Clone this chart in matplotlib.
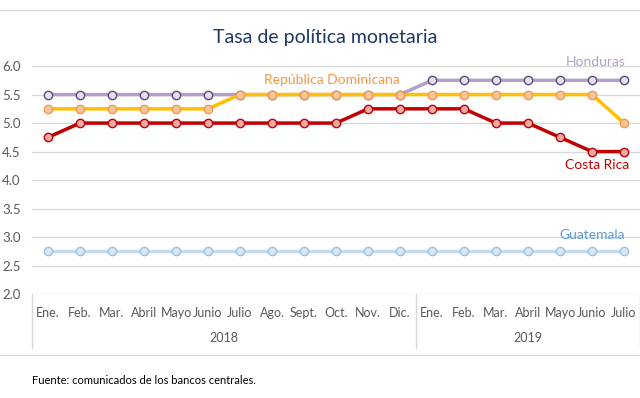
import numpy as np
import matplotlib.pyplot as plt
from matplotlib.lines import Line2D
from matplotlib.transforms import blended_transform_factory

months = ["Ene.", "Feb.", "Mar.", "Abril", "Mayo", "Junio", "Julio", "Ago.", "Sept.",
          "Oct.", "Nov.", "Dic.", "Ene.", "Feb.", "Mar.", "Abril", "Mayo", "Junio", "Julio"]
years = ["2018", "2019"]
year_len = [12, 7]

honduras = [5.5] * 12 + [5.75] * 7
rep_dom = [5.25] * 6 + [5.5] * 12 + [5.0]
costa_rica = [4.75, 5.0, 5.0, 5.0, 5.0, 5.0, 5.0, 5.0, 5.0, 5.0, 5.25, 5.25,
              5.25, 5.25, 5.0, 5.0, 4.75, 4.5, 4.5]
guatemala = [2.75] * 19

plt.rcParams['font.family'] = ['Lato', 'DejaVu Sans']

fig = plt.figure(figsize=(6.4, 3.98), dpi=100)
ax = fig.add_axes([0.05, 0.261, 0.95, 0.573])
x = np.arange(len(months))

# (data, line color, marker face, marker edge)
series = [
    (guatemala, "#C5D9F1", "#DCE6F2", "#9DC3E6"),
    (honduras, "#B1A0C7", "#E4DFEC", "#604A7B"),
    (rep_dom, "#FFC000", "#FBC8A0", "#F79646"),
    (costa_rica, "#C00000", "#EBAAAA", "#C00000"),
]
for vals, lc, mf, me in series:
    ax.plot(x, vals, color=lc, lw=2.5, marker="o", ms=6, mfc=mf, mec=me, mew=1, zorder=3)

ax.set_xlim(-0.5, len(months) - 0.5)
ax.set_ylim(2.0, 6.0)
ax.set_yticks(np.arange(2.0, 6.01, 0.5))
ax.set_yticklabels([f"{v:.1f}" for v in np.arange(2.0, 6.01, 0.5)], color="#595959", fontsize=9.5)
ax.tick_params(axis="y", length=0, pad=21.5)
for lab in ax.get_yticklabels():
    lab.set_horizontalalignment("left")
ax.set_xticks([])
ax.grid(axis="y", color="#D9D9D9", lw=1)
for s in ax.spines.values():
    s.set_visible(False)

# series labels
ax.text(17.1, 6.07, "Honduras", color="#B1A0C7", fontsize=10, ha="center", va="center")
ax.text(8.86, 5.75, "República Dominicana", color="#F79646", fontsize=10, ha="center", va="center")
ax.text(17.15, 4.26, "Costa Rica", color="#C00000", fontsize=10, ha="center", va="center")
ax.text(17.0, 3.04, "Guatemala", color="#5B9BD5", fontsize=10, ha="center", va="center")

# two-level category axis
tr = blended_transform_factory(ax.transData, fig.transFigure)
for i, m in enumerate(months):
    ax.text(i, 1 - 313 / 398, m, transform=tr, ha="center", va="center",
            color="#595959", fontsize=9)
start = 0
seps = [-0.5]
for y, n in zip(years, year_len):
    ax.text(start + (n - 1) / 2, 1 - 338 / 398, y, transform=tr, ha="center", va="center",
            color="#595959", fontsize=9)
    start += n
    seps.append(start - 0.5)
for s in seps:
    fig.add_artist(Line2D([s, s], [1 - 294 / 398, 1 - 348 / 398], transform=tr,
                          color="#D9D9D9", lw=1))

# frame lines, title and source
fig.add_artist(Line2D([0, 1], [1 - 10 / 398] * 2, color="#D9D9D9", lw=1))
fig.add_artist(Line2D([0, 1], [1 - 355 / 398] * 2, color="#D9D9D9", lw=1))
fig.text(0.508, 1 - 37 / 398, "Tasa de política monetaria", ha="center", va="center",
         color="#1F3864", fontsize=14)
fig.text(32 / 640, 1 - 381 / 398, "Fuente: comunicados de los bancos centrales.",
         ha="left", va="center", color="#000000", fontsize=8)

fig.savefig("out.png", dpi=100)
